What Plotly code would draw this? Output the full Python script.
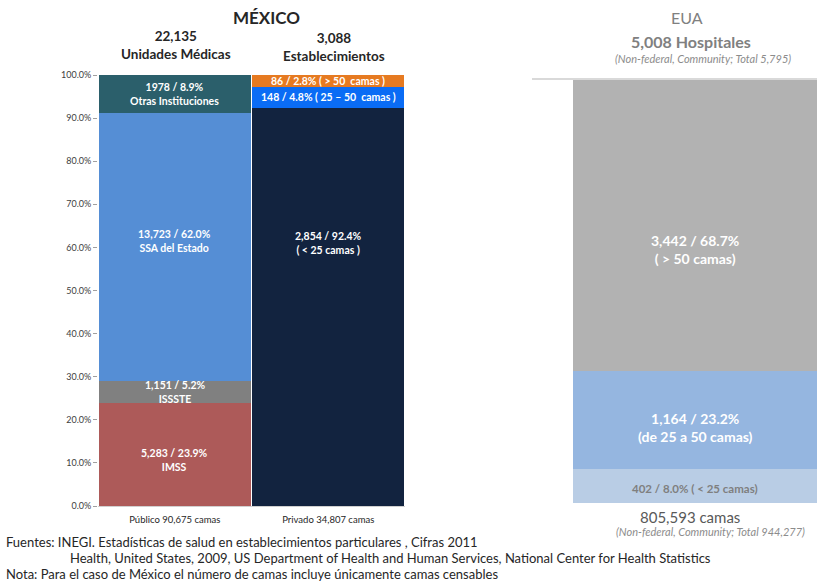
import plotly.graph_objects as go

# ---------------- data ----------------
mx_categories = ["Público 90,675 camas", "Privado 34,807 camas"]

# Público (Unidades Médicas) stacked from bottom
pub_names = ["IMSS", "ISSSTE", "SSA del Estado", "Otras Instituciones"]
pub_counts = ["5,283", "1,151", "13,723", "1978"]
pub_pct = [23.9, 5.2, 62.0, 8.9]
pub_colors = ["#ad5a59", "#808080", "#558ed5", "#2b5f6b"]

# Privado (Establecimientos) stacked from bottom
priv_names = ["( < 25 camas )", "( 25 – 50  camas )", "( > 50  camas )"]
priv_counts = ["2,854", "148", "86"]
priv_pct = [92.4, 4.8, 2.8]
priv_colors = ["#12233f", "#0a6cf5", "#e67a21"]

# EUA hospitals stacked from bottom
us_names = ["( < 25 camas)", "(de 25 a 50 camas)", "( > 50 camas)"]
us_counts = ["402", "1,164", "3,442"]
us_pct = [8.0, 23.2, 68.7]
us_colors = ["#b9cde5", "#95b6e0", "#b2b2b2"]

y_ticks = [0, 10, 20, 30, 40, 50, 60, 70, 80, 90, 100]

FONT = "Lato, 'Open Sans', sans-serif"
W, H = 817, 582

fig = go.Figure()

for name, pct, col in zip(pub_names, pub_pct, pub_colors):
    fig.add_trace(go.Bar(x=[mx_categories[0]], y=[pct], name=name, marker=dict(color=col, line=dict(width=0)),
                         xaxis="x", yaxis="y", hoverinfo="skip"))
for name, pct, col in zip(priv_names, priv_pct, priv_colors):
    fig.add_trace(go.Bar(x=[mx_categories[1]], y=[pct], name=name, marker=dict(color=col, line=dict(width=0)),
                         xaxis="x", yaxis="y", hoverinfo="skip"))
for name, pct, col in zip(us_names, us_pct, us_colors):
    fig.add_trace(go.Bar(x=["EUA"], y=[pct], name=name, width=[1.0], marker=dict(color=col, line=dict(width=0)),
                         xaxis="x2", yaxis="y2", hoverinfo="skip"))

annotations = []


def cum_mid(vals):
    out, s = [], 0
    for v in vals:
        out.append(s + v / 2)
        s += v
    return out


# Público labels
pub_mid = cum_mid(pub_pct)
pub_label_y = [pub_mid[0] - 1.2, pub_mid[1], pub_mid[2] + 1.3, pub_mid[3]]
for n, c, p, y in zip(pub_names, pub_counts, pub_pct, pub_label_y):
    annotations.append(dict(x=mx_categories[0], y=y, xref="x", yref="y", showarrow=False,
                            text=f"<b>{c} / {p:.1f}%<br>{n}</b>",
                            font=dict(family=FONT, size=10.5, color="white"), align="center"))

# Privado labels
priv_mid = cum_mid(priv_pct)
priv_label_y = [61.0, priv_mid[1], priv_mid[2]]
for i, (n, c, p, y) in enumerate(zip(priv_names, priv_counts, priv_pct, priv_label_y)):
    txt = f"<b>{c} / {p:.1f}%<br>{n}</b>" if i == 0 else f"<b>{c} / {p:.1f}% {n}</b>"
    annotations.append(dict(x=mx_categories[1], y=y, xref="x", yref="y", showarrow=False, text=txt,
                            font=dict(family=FONT, size=10.5, color="white"), align="center"))

# EUA labels
us_mid = cum_mid(us_pct)
us_label_y = [us_mid[0] - 0.6, us_mid[1] - 1.7, us_mid[2] - 5.8]
for i, (n, c, p, y) in enumerate(zip(us_names, us_counts, us_pct, us_label_y)):
    if i == 0:
        txt = f"<b>{c} / {p:.1f}% {n}</b>"
        col, sz = "#7f7f7f", 11.5
    else:
        txt = f"<b>{c} / {p:.1f}%<br>{n}</b>"
        col, sz = "white", 14
    annotations.append(dict(x="EUA", y=y, xref="x2", yref="y2", showarrow=False, text=txt,
                            font=dict(family=FONT, size=sz, color=col), align="center"))

# Headers (pixel positions converted to paper fractions)
headers = [
    (266, 17, "<b>MÉXICO</b>", 17, "#262626"),
    (176, 45, "<b>22,135<br>Unidades Médicas</b>", 13.5, "#262626"),
    (334, 47, "<b>3,088<br>Establecimientos</b>", 13.5, "#262626"),
    (687, 17, "EUA", 16, "#808080"),
    (691, 42, "<b>5,008 Hospitales</b>", 16, "#808080"),
    (703, 59, "<i>(Non-federal, Community; Total 5,795)</i>", 11, "#8c8c8c"),
    (690, 517, "805,593 camas", 15, "#595959"),
    (710, 531, "<i>(Non-federal, Community; Total 944,277)</i>", 11, "#8c8c8c"),
]
for x, y, t, s, c in headers:
    annotations.append(dict(x=x / W, y=1 - y / H, xref="paper", yref="paper", showarrow=False,
                            align="center", xanchor="center", yanchor="middle", text=t,
                            font=dict(family=FONT, size=s, color=c)))

# Footer
footer = [
    (4, 542, "Fuentes: INEGI. Estadísticas de salud en establecimientos particulares , Cifras 2011"),
    (68, 558, "Health, United States, 2009, US Department of Health and Human Services, National Center for Health Statistics"),
    (4, 574, "Nota: Para el caso de México el número de camas incluye únicamente camas censables"),
]
for x, y, t in footer:
    annotations.append(dict(x=x / W, y=1 - y / H, xref="paper", yref="paper", showarrow=False,
                            xanchor="left", yanchor="middle", text=t,
                            font=dict(family=FONT, size=13, color="#262626")))

fig.update_layout(
    width=W, height=H,
    margin=dict(l=0, r=0, t=0, b=0, autoexpand=False),
    paper_bgcolor="white", plot_bgcolor="white",
    barmode="stack", bargap=0.012,
    showlegend=False,
    font=dict(family=FONT, color="#262626"),
    xaxis=dict(domain=[98 / W, 405 / W], type="category", categoryorder="array",
               categoryarray=mx_categories, showgrid=False, showline=True, linecolor="#d0d0d0",
               linewidth=1, ticks="", ticklabelstandoff=5,
               tickfont=dict(family=FONT, size=9.5, color="#262626"),
               automargin=False, anchor="y"),
    yaxis=dict(domain=[1 - 506 / H, 1 - 75 / H], range=[0, 100], tickvals=y_ticks,
               ticktext=[f"{v:.1f}%" for v in y_ticks], showgrid=False, zeroline=False,
               ticks="outside", ticklen=4, tickcolor="#a0a0a0", showline=False,
               tickfont=dict(family=FONT, size=9, color="#404040"), anchor="x", automargin=False),
    xaxis2=dict(domain=[573 / W, 1.0], type="category", range=[-0.5, 0.5], showticklabels=False,
                showgrid=False, showline=False, ticks="", anchor="y2", automargin=False),
    yaxis2=dict(domain=[1 - 503 / H, 1 - 79 / H], range=[0, 100], visible=False, anchor="x2",
                automargin=False),
    annotations=annotations,
    shapes=[dict(type="line", xref="paper", yref="paper", x0=532 / W, x1=1.0,
                 y0=1 - 79 / H, y1=1 - 79 / H, line=dict(color="#d9d9d9", width=2))],
)

fig.write_html("out.html", config={"displayModeBar": False},
               post_script="document.body.style.margin='0';document.body.style.overflow='hidden';")
